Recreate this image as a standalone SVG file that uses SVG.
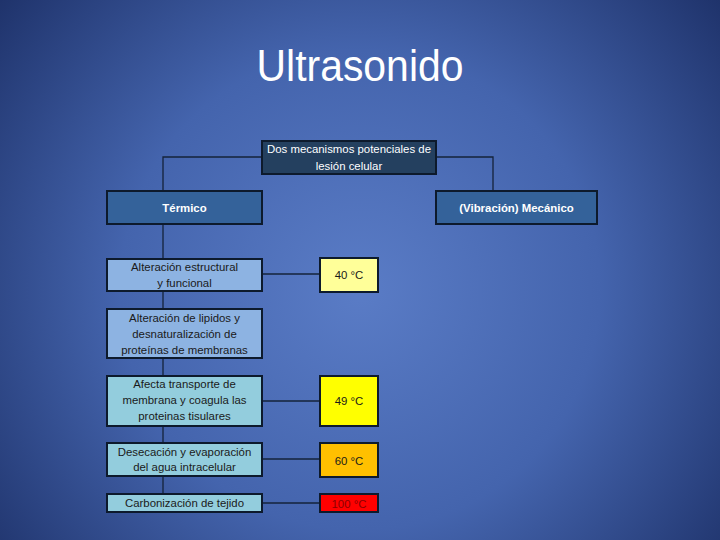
<svg xmlns="http://www.w3.org/2000/svg" width="720" height="540" viewBox="0 0 720 540">
<defs>
<radialGradient id="bg" cx="360" cy="290" r="480" gradientUnits="userSpaceOnUse">
<stop offset="0" stop-color="#5a7cc6"/>
<stop offset="0.5" stop-color="#4464ad"/>
<stop offset="1" stop-color="#1c2f66"/>
</radialGradient>
<style>
.box{stroke:#0d1a2c;stroke-width:2}
.dark{fill:#24405f}
.mid{fill:#34629a}
.lb{fill:#8db3e2}
.cy{fill:#93cddd}
.t{font-family:"Liberation Sans",Arial,sans-serif;font-size:11.4px;text-anchor:middle;fill:#1a1a1a}
.w{fill:#ffffff}
.b{font-weight:bold}
.con{fill:none;stroke:#14233a;stroke-width:1.3}
</style>
</defs>
<rect width="720" height="540" fill="url(#bg)"/>
<text x="360" y="81" font-family="'Liberation Sans',Arial,sans-serif" font-size="44" fill="#ffffff" text-anchor="middle" textLength="207" lengthAdjust="spacingAndGlyphs">Ultrasonido</text>
<g id="connectors">
<path class="con" d="M262,157 H163 V191"/>
<path class="con" d="M436,157 H493 V191"/>
<path class="con" d="M163,224 V494"/>
<path class="con" d="M262,274 H320"/>
<path class="con" d="M262,401 H320"/>
<path class="con" d="M262,459 H320"/>
<path class="con" d="M262,503 H320"/>
</g>
<g id="root"><rect class="box dark" x="262" y="141" width="174" height="33"/><text class="t w" x="349" y="153">Dos mecanismos potenciales de</text><text class="t w" x="349" y="170">lesión celular</text></g>
<g id="termico"><rect class="box mid" x="107" y="191" width="155" height="33"/><text class="t w b" x="184.5" y="212">Térmico</text></g>
<g id="mecanico"><rect class="box mid" x="436" y="191" width="161" height="33"/><text class="t w b" x="516.5" y="212">(Vibración) Mecánico</text></g>
<g id="b1"><rect class="box lb" x="107" y="259" width="155" height="32"/><text class="t" x="184.5" y="271">Alteración estructural</text><text class="t" x="184.5" y="287">y funcional</text></g>
<g id="b2"><rect class="box lb" x="107" y="309" width="155" height="49"/><text class="t" x="184.5" y="322">Alteración de lipidos y</text><text class="t" x="184.5" y="338">desnaturalización de</text><text class="t" x="184.5" y="354">proteínas de membranas</text></g>
<g id="b3"><rect class="box cy" x="107" y="376" width="155" height="50"/><text class="t" x="184.5" y="388">Afecta transporte de</text><text class="t" x="184.5" y="404">membrana y coagula las</text><text class="t" x="184.5" y="420">proteinas tisulares</text></g>
<g id="b4"><rect class="box cy" x="107" y="443" width="155" height="33"/><text class="t" x="184.5" y="456">Desecación y evaporación</text><text class="t" x="184.5" y="471">del agua intracelular</text></g>
<g id="b5"><rect class="box cy" x="107" y="494" width="155" height="18"/><text class="t" x="184.5" y="507">Carbonización de tejido</text></g>
<g id="t40"><rect class="box" fill="#ffff99" x="320" y="258" width="58" height="34"/><text class="t" x="349" y="279">40 °C</text></g>
<g id="t49"><rect class="box" fill="#ffff00" x="320" y="376" width="58" height="50"/><text class="t" x="349" y="405">49 °C</text></g>
<g id="t60"><rect class="box" fill="#ffc000" x="320" y="443" width="58" height="34"/><text class="t" x="349" y="465">60 °C</text></g>
<g id="t100"><rect class="box" fill="#ff0000" x="320" y="494" width="58" height="18"/><text class="t" style="fill:#8b0000" x="349" y="508">100 °C</text></g>
</svg>
